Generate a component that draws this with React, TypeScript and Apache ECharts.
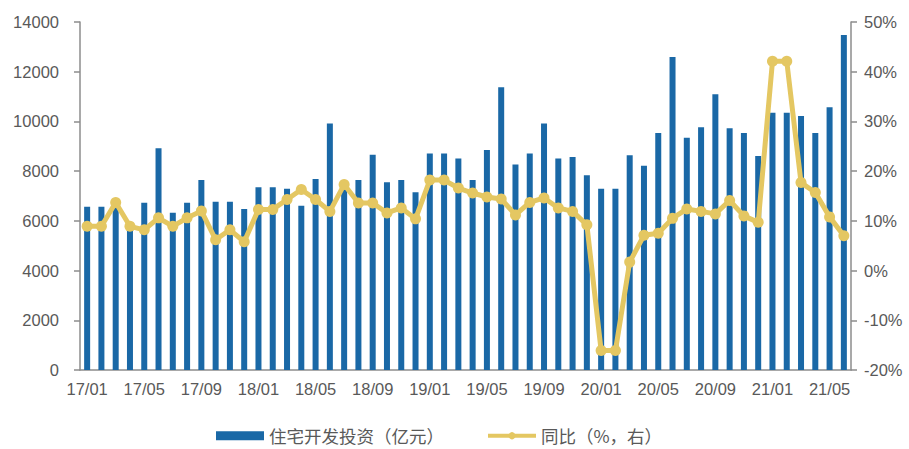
import React, { useEffect, useRef } from "react";
import * as echarts from "echarts";

const categories: string[] = [
  "17/01","17/02","17/03","17/04","17/05","17/06","17/07","17/08","17/09","17/10","17/11","17/12",
  "18/01","18/02","18/03","18/04","18/05","18/06","18/07","18/08","18/09","18/10","18/11","18/12",
  "19/01","19/02","19/03","19/04","19/05","19/06","19/07","19/08","19/09","19/10","19/11","19/12",
  "20/01","20/02","20/03","20/04","20/05","20/06","20/07","20/08","20/09","20/10","20/11","20/12",
  "21/01","21/02","21/03","21/04","21/05","21/06",
];

const investment: number[] = [
  6570, 6570, 6850, 5850, 6730, 8920, 6330, 6730, 7640, 6770, 6770, 6480,
  7350, 7350, 7290, 6610, 7680, 9920, 7600, 7640, 8660, 7550, 7640, 7150,
  8710, 8710, 8510, 7640, 8850, 11370, 8270, 8710, 9920, 8510, 8570, 7830,
  7290, 7290, 8640, 8220, 9530, 12590, 9340, 9770, 11090, 9730, 9530, 8610,
  10350, 10350, 10220, 9530, 10570, 13480,
];

const yoy: number[] = [
  8.9, 8.9, 13.7, 8.9, 8.2, 10.6, 8.9, 10.6, 12.0, 6.2, 8.2, 5.8,
  12.3, 12.3, 14.3, 16.3, 14.3, 11.9, 17.3, 13.6, 13.6, 11.6, 12.6, 10.4,
  18.2, 18.2, 16.6, 15.6, 14.8, 14.4, 11.2, 13.7, 14.6, 12.6, 11.9, 9.2,
  -16.1, -16.1, 1.7, 7.1, 7.5, 10.5, 12.4, 11.9, 11.4, 14.1, 11.0, 9.7,
  42.1, 42.1, 17.7, 15.7, 10.8, 7.0,
];

const leftTicks = { min: 0, max: 14000, interval: 2000 };
const rightTicks = { min: -20, max: 50, interval: 10 };

const BLUE = "#1a68a6";
const GOLD = "#e4c762";
const TEXT = "#595959";
const AXIS = "#8c8c8c";
const NUMFONT = "'Liberation Sans', Arial, sans-serif";
const CJKFONT = "'Noto Sans CJK SC', 'Noto Sans', sans-serif";

export default function App() {
  const ref = useRef<HTMLDivElement>(null);
  useEffect(() => {
    if (!ref.current) return;
    const chart = echarts.init(ref.current, null, { renderer: "svg" });
    chart.setOption({
      animation: false,
      backgroundColor: "#ffffff",
      textStyle: { fontFamily: NUMFONT },
      grid: { left: 80, right: 58, top: 22, bottom: 79, containLabel: false },
      legend: {
        left: 211,
        top: 422,
        itemWidth: 48,
        itemHeight: 9,
        itemGap: 42,
        lineStyle: { width: 4 },
        textStyle: { fontSize: 17.5, color: TEXT, fontFamily: CJKFONT },
        data: [
          { name: "住宅开发投资（亿元）", icon: "rect" },
          { name: "同比（%，右）" },
        ],
      },
      xAxis: {
        type: "category",
        data: categories,
        boundaryGap: true,
        axisLine: { lineStyle: { color: AXIS, width: 1.5 } },
        axisTick: { show: false },
        axisLabel: {
          interval: 3,
          color: TEXT,
          fontSize: 16.5,
          margin: 10,
          fontFamily: NUMFONT,
        },
        splitLine: { show: false },
      },
      yAxis: [
        {
          type: "value",
          min: leftTicks.min,
          max: leftTicks.max,
          interval: leftTicks.interval,
          position: "left",
          axisLine: { show: true, lineStyle: { color: AXIS, width: 1.5 } },
          axisTick: { show: true, length: 6, lineStyle: { color: AXIS, width: 1.5 } },
          axisLabel: {
            color: TEXT,
            fontSize: 16.5,
            margin: 21,
            fontFamily: NUMFONT,
            formatter: (v: number) => String(v),
          },
          splitLine: { show: false },
        },
        {
          type: "value",
          min: rightTicks.min,
          max: rightTicks.max,
          interval: rightTicks.interval,
          position: "right",
          axisLine: { show: true, lineStyle: { color: AXIS, width: 1.5 } },
          axisTick: { show: true, length: 6, lineStyle: { color: AXIS, width: 1.5 } },
          axisLabel: {
            color: TEXT,
            fontSize: 16.5,
            margin: 13,
            fontFamily: NUMFONT,
            formatter: (v: number) => `${v}%`,
          },
          splitLine: { show: false },
        },
      ],
      series: [
        {
          name: "住宅开发投资（亿元）",
          type: "bar",
          data: investment,
          yAxisIndex: 0,
          barWidth: 6,
          itemStyle: { color: BLUE },
        },
        {
          name: "同比（%，右）",
          type: "line",
          data: yoy,
          yAxisIndex: 1,
          symbol: "circle",
          symbolSize: 11,
          showSymbol: true,
          showAllSymbol: true,
          lineStyle: { color: GOLD, width: 5 },
          itemStyle: { color: GOLD },
        },
      ],
    });
    return () => chart.dispose();
  }, []);
  return (
    <div
      ref={ref}
      style={{ position: "absolute", left: 0, top: 0, width: 909, height: 449 }}
    />
  );
}
